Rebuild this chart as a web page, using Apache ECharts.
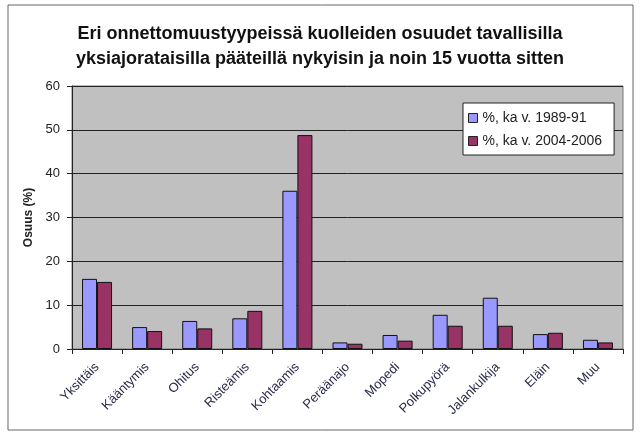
<!DOCTYPE html>
<html>
<head>
<meta charset="utf-8">
<script src="https://cdn.jsdelivr.net/npm/echarts@6/dist/echarts.min.js"></script>
<style>
  html, body { margin: 0; padding: 0; background: #fff; }
  #main { width: 640px; height: 434px; }
</style>
</head>
<body>
<div id="main"></div>
<script>
const categories = ['Yksittäis', 'Kääntymis', 'Ohitus', 'Risteämis', 'Kohtaamis', 'Peräänajo',
  'Mopedi', 'Polkupyörä', 'Jalankulkija', 'Eläin', 'Muu'];
const seriesNames = ['%, ka v. 1989-91', '%, ka v. 2004-2006'];
const early = [16.0, 5.0, 6.4, 7.0, 36.1, 1.5, 3.2, 7.8, 11.7, 3.4, 2.1];
const recent = [15.3, 4.1, 4.7, 8.7, 48.8, 1.2, 1.9, 5.3, 5.3, 3.7, 1.5];

const chart = echarts.init(document.getElementById('main'));

var option = {
  backgroundColor: '#fff',
  color: ['#9999ff', '#993366'],
  title: {
    text: 'Eri onnettomuustyypeissä kuolleiden osuudet tavallisilla\nyksiajorataisilla pääteillä nykyisin ja noin 15 vuotta sitten',
    left: 'center',
    top: 17,
    textStyle: {
      fontFamily: 'Liberation Sans, Arial',
      fontSize: 18,
      fontWeight: 'bold',
      color: '#111',
      lineHeight: 25
    }
  },
  legend: {
    data: seriesNames,
    orient: 'vertical',
    left: 463,
    top: 103,
    icon: 'rect',
    itemWidth: 9,
    itemHeight: 9,
    itemGap: 9,
    padding: [8, 12, 7, 5],
    backgroundColor: '#fff',
    borderColor: '#222',
    borderWidth: 1,
    borderRadius: 0,
    textStyle: { fontFamily: 'Liberation Sans, Arial', fontSize: 14, color: '#222' },
    itemStyle: { borderColor: '#222', borderWidth: 1 }
  },
  grid: {
    left: 72,
    right: 17,
    top: 86,
    bottom: 85,
    show: true,
    backgroundColor: '#c0c0c0',
    borderColor: '#777',
    borderWidth: 1
  },
  xAxis: {
    type: 'category',
    data: categories,
    axisLine: { lineStyle: { color: '#222' } },
    axisTick: { show: true, lineStyle: { color: '#222' } },
    axisLabel: {
      rotate: 45,
      interval: 0,
      fontFamily: 'Liberation Sans, Arial',
      fontSize: 13,
      color: '#2a2a4a',
      margin: 16
    }
  },
  yAxis: {
    type: 'value',
    min: 0,
    max: 60,
    interval: 10,
    name: 'Osuus (%)',
    nameLocation: 'middle',
    nameGap: 33,
    nameTextStyle: { fontFamily: 'Liberation Sans, Arial', fontSize: 12, fontWeight: 'bold', color: '#222' },
    axisLine: { show: true, lineStyle: { color: '#222' } },
    axisTick: { show: true, lineStyle: { color: '#222' } },
    axisLabel: { fontFamily: 'Liberation Sans, Arial', fontSize: 13, color: '#222', margin: 12 },
    splitLine: { lineStyle: { color: '#222', width: 1 } }
  },
  series: [{
    name: seriesNames[0],
    type: 'bar',
    data: early,
    barWidth: 15,
    barGap: '0%',
    itemStyle: { borderColor: '#111', borderWidth: 1 }
  }, {
    name: seriesNames[1],
    type: 'bar',
    data: recent,
    barWidth: 15,
    itemStyle: { borderColor: '#111', borderWidth: 1 }
  }],
  graphic: [{
    type: 'rect',
    shape: { x: 8, y: 5, width: 625, height: 425 },
    style: { fill: 'none', stroke: '#666', lineWidth: 1 },
    z: -1
  }]
};

chart.setOption(option);
</script>
</body>
</html>
